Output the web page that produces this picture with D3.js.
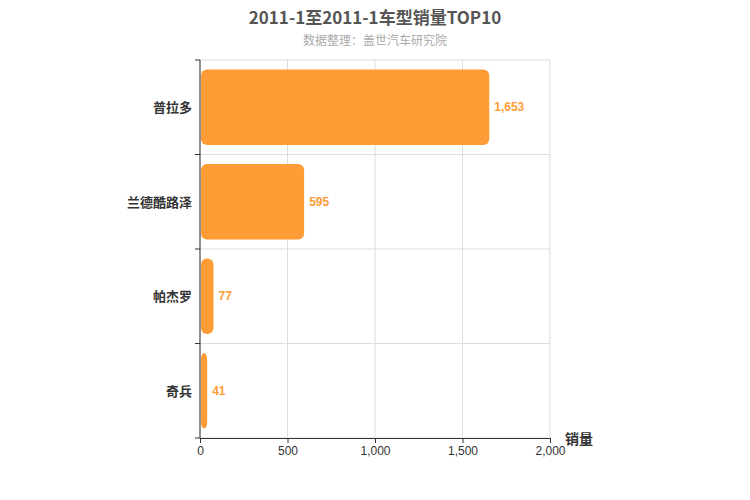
<!DOCTYPE html>
<html><head><meta charset="utf-8">
<script src="https://cdn.jsdelivr.net/npm/d3@7"></script>
<style>body{margin:0;background:#fff;font-family:"Noto Sans CJK SC",Arial,sans-serif;}</style>
</head><body><svg id="chart" width="750" height="500"></svg>
<script>
// data
var models = ['普拉多', '兰德酷路泽', '帕杰罗', '奇兵'];
var sales = [1653, 595, 77, 41];
var xTicks = [0, 500, 1000, 1500, 2000];

var svg = d3.select('#chart');
var plotLeft = 200, plotRight = 550, plotTop = 60, plotBottom = 438;

var x = d3.scaleLinear().domain([0, 2000]).range([plotLeft, plotRight]);
var y = d3.scaleBand().domain(models).range([plotTop, plotBottom]).paddingInner(0.2).paddingOuter(0.1);
var band = d3.scaleBand().domain(models).range([plotTop, plotBottom]);

// grid
svg.append('g').selectAll('line').data(xTicks).enter().append('line')
	.attr('x1', d => x(d)).attr('x2', d => x(d)).attr('y1', plotTop).attr('y2', plotBottom)
	.attr('stroke', '#ddd');
var bounds = models.map(m => band(m)).concat([plotBottom]);
svg.append('g').selectAll('line').data(bounds).enter().append('line')
	.attr('x1', plotLeft).attr('x2', plotRight).attr('y1', d => d).attr('y2', d => d)
	.attr('stroke', '#ddd');

// axes
var xAxis = svg.append('g').attr('transform', 'translate(0,' + plotBottom + ')')
	.call(d3.axisBottom(x).tickValues(xTicks).tickFormat(d3.format(',')).tickSize(5));
xAxis.select('.domain').attr('stroke', '#333');
xAxis.selectAll('.tick line').attr('stroke', '#333');
xAxis.selectAll('text').attr('fill', '#333').style('font-size', '12px').style('font-family', 'Arial');

svg.append('line').attr('x1', plotLeft).attr('x2', plotLeft).attr('y1', plotTop).attr('y2', plotBottom).attr('stroke', '#333');
svg.append('g').selectAll('line').data(bounds).enter().append('line')
	.attr('x1', plotLeft - 5).attr('x2', plotLeft).attr('y1', d => d).attr('y2', d => d).attr('stroke', '#333');
svg.append('g').selectAll('text').data(models).enter().append('text')
	.attr('x', plotLeft - 8).attr('y', d => band(d) + band.bandwidth() / 2 + 5)
	.attr('text-anchor', 'end').attr('fill', '#333')
	.style('font-size', '13px').style('font-weight', 'bold').text(d => d);

// bars
svg.append('g').selectAll('rect').data(models).enter().append('rect')
	.attr('x', plotLeft + 1).attr('y', d => y(d))
	.attr('width', (d, i) => x(sales[i]) - plotLeft - 1).attr('height', y.bandwidth())
	.attr('rx', 6).attr('fill', '#ff9c35');
svg.append('g').selectAll('text').data(models).enter().append('text')
	.attr('x', (d, i) => x(sales[i]) + 5).attr('y', d => y(d) + y.bandwidth() / 2 + 4)
	.attr('fill', '#ff9c35').style('font-size', '12px').style('font-weight', 'bold')
	.style('font-family', 'Arial')
	.text((d, i) => d3.format(',')(sales[i]));

// titles
svg.append('text').attr('x', 375).attr('y', 24).attr('text-anchor', 'middle')
	.attr('fill', '#555').style('font-size', '17px').style('font-weight', 'bold')
	.text('2011-1至2011-1车型销量TOP10');
svg.append('text').attr('x', 375).attr('y', 45).attr('text-anchor', 'middle')
	.attr('fill', '#aaa').style('font-size', '12px').text('数据整理：盖世汽车研究院');
svg.append('text').attr('x', 565).attr('y', 444).attr('fill', '#333')
	.style('font-size', '14px').style('font-weight', 'bold').text('销量');
</script></body></html>
